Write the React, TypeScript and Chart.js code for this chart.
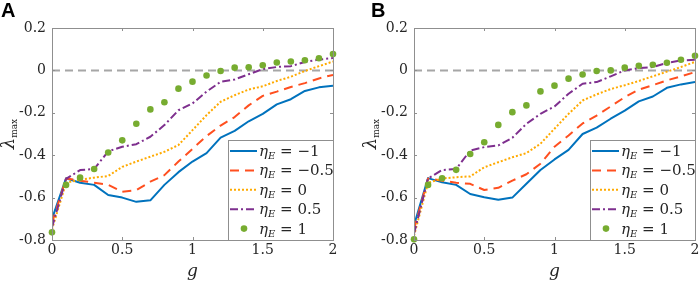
import React, { useEffect, useRef } from 'react';
import { Chart, registerables } from 'chart.js';
Chart.register(...registerables);

// ---------- data ----------
const G = [0, 0.1, 0.2, 0.3, 0.4, 0.5, 0.6, 0.7, 0.8, 0.9, 1.0, 1.1, 1.2, 1.3, 1.4, 1.5, 1.6, 1.7, 1.8, 1.9, 2.0];
const X_TICKS = [0, 0.5, 1, 1.5, 2];
const Y_TICKS = [-0.8, -0.6, -0.4, -0.2, 0, 0.2];
const LEGEND_VALUES = ['\u22121', '\u22120.5', '0', '0.5', '1'];

// Panel A
const A_ETA_M1 = [-0.70, -0.509, -0.53, -0.54, -0.588, -0.60, -0.62, -0.613, -0.54, -0.48, -0.43, -0.39, -0.317, -0.285, -0.24, -0.205, -0.16, -0.136, -0.097, -0.08, -0.072];
const A_ETA_M05 = [-0.72, -0.51, -0.52, -0.53, -0.54, -0.572, -0.565, -0.525, -0.494, -0.43, -0.37, -0.31, -0.26, -0.22, -0.165, -0.12, -0.1, -0.078, -0.06, -0.038, -0.021];
const A_ETA_0 = [-0.75, -0.53, -0.515, -0.506, -0.498, -0.455, -0.43, -0.407, -0.384, -0.352, -0.282, -0.211, -0.148, -0.117, -0.09, -0.075, -0.05, -0.03, -0.003, 0.02, 0.042];
const A_ETA_05 = [-0.74, -0.512, -0.47, -0.465, -0.382, -0.36, -0.348, -0.313, -0.258, -0.188, -0.156, -0.10, -0.054, -0.043, -0.018, 0.006, 0.016, 0.02, 0.04, 0.051, 0.058];
const A_ETA_1 = [-0.764, -0.54, -0.506, -0.465, -0.387, -0.33, -0.252, -0.184, -0.15, -0.086, -0.053, -0.024, -0.003, 0.013, 0.015, 0.024, 0.037, 0.042, 0.048, 0.057, 0.077];

// Panel B
const B_ETA_M1 = [-0.73, -0.508, -0.528, -0.54, -0.583, -0.598, -0.61, -0.60, -0.535, -0.47, -0.42, -0.375, -0.30, -0.27, -0.228, -0.19, -0.146, -0.123, -0.082, -0.066, -0.055];
const B_ETA_M05 = [-0.75, -0.51, -0.52, -0.53, -0.535, -0.564, -0.554, -0.52, -0.49, -0.44, -0.36, -0.307, -0.25, -0.213, -0.17, -0.126, -0.091, -0.07, -0.047, -0.028, -0.008];
const B_ETA_0 = [-0.78, -0.53, -0.51, -0.504, -0.50, -0.457, -0.433, -0.41, -0.39, -0.346, -0.275, -0.205, -0.142, -0.113, -0.088, -0.07, -0.05, -0.028, -0.006, 0.016, 0.04];
const B_ETA_05 = [-0.77, -0.51, -0.47, -0.465, -0.378, -0.362, -0.354, -0.318, -0.252, -0.205, -0.17, -0.11, -0.063, -0.055, -0.028, 0, 0.011, 0.016, 0.035, 0.047, 0.05];
const B_ETA_1 = [-0.797, -0.54, -0.509, -0.469, -0.394, -0.339, -0.257, -0.197, -0.165, -0.099, -0.072, -0.039, -0.019, -0.003, 0, 0.013, 0.022, 0.027, 0.036, 0.05, 0.069];

// ---------- styles ----------
const SERIF = '"DejaVu Serif", serif';
const AXIS_COLOR = '#8f8f8f';
const TEXT_COLOR = '#262626';
const STYLES = [
  { color: '#0072BD', dash: [] as number[], dots: false },
  { color: '#FF4F1F', dash: [9, 6], dots: false },
  { color: '#FFAA00', dash: [2, 2], dots: false },
  { color: '#7E2F8E', dash: [8, 3, 2, 3], dots: false },
  { color: '#77AC30', dash: [] as number[], dots: true },
];

const fmtY = (v: number) => {
  const r = Math.round(v * 10) / 10;
  return r === 0 ? '0' : r.toFixed(1);
};
const fmtX = (v: number) => String(Math.round(v * 10) / 10);

function drawEtaLabel(ctx: CanvasRenderingContext2D, x: number, y: number, val: string) {
  ctx.fillStyle = TEXT_COLOR;
  ctx.textBaseline = 'alphabetic';
  ctx.textAlign = 'left';
  ctx.font = `italic 15px ${SERIF}`;
  ctx.fillText('\u03B7', x, y);
  let w = ctx.measureText('\u03B7').width;
  ctx.font = `italic 10px ${SERIF}`;
  ctx.fillText('E', x + w, y + 3);
  w += ctx.measureText('E').width;
  ctx.font = `15px ${SERIF}`;
  ctx.fillText(' = ' + val, x + w, y);
}

type PanelProps = { letter: string; series: number[][]; left: number; letterX: number };

function Panel({ letter, series, left, letterX }: PanelProps) {
  const ref = useRef<HTMLCanvasElement>(null);
  useEffect(() => {
    const canvas = ref.current;
    if (!canvas) return;

    const decor = {
      id: 'decor',
      afterDatasetsDraw(chart: any) {
        const ctx: CanvasRenderingContext2D = chart.ctx;
        const ca = chart.chartArea;
        const xs = chart.scales.x;
        const ys = chart.scales.y;
        ctx.save();
        // box
        ctx.setLineDash([]);
        ctx.strokeStyle = AXIS_COLOR;
        ctx.lineWidth = 1;
        ctx.strokeRect(Math.round(ca.left) + 0.5, Math.round(ca.top) + 0.5, Math.round(ca.right - ca.left), Math.round(ca.bottom - ca.top));
        // inward ticks
        ctx.beginPath();
        X_TICKS.forEach((v) => {
          const px = Math.round(xs.getPixelForValue(v)) + 0.5;
          ctx.moveTo(px, ca.bottom); ctx.lineTo(px, ca.bottom - 3);
          ctx.moveTo(px, ca.top); ctx.lineTo(px, ca.top + 3);
        });
        Y_TICKS.forEach((v) => {
          const py = Math.round(ys.getPixelForValue(v)) + 0.5;
          ctx.moveTo(ca.left, py); ctx.lineTo(ca.left + 3, py);
          ctx.moveTo(ca.right, py); ctx.lineTo(ca.right - 3, py);
        });
        ctx.stroke();

        // legend
        const bw = 105, bh = 100;
        const bx = Math.round(ca.right) - bw;
        const by = Math.round(ca.bottom) - bh;
        ctx.fillStyle = '#ffffff';
        ctx.fillRect(bx, by, bw, bh);
        ctx.strokeStyle = AXIS_COLOR;
        ctx.strokeRect(bx + 0.5, by + 0.5, bw, bh);
        STYLES.forEach((s, i) => {
          const cy = by + 11 + i * 19.4;
          if (s.dots) {
            ctx.fillStyle = s.color;
            ctx.beginPath();
            ctx.arc(bx + 16, cy, 3.3, 0, Math.PI * 2);
            ctx.fill();
          } else {
            ctx.strokeStyle = s.color;
            ctx.lineWidth = 2;
            ctx.setLineDash(s.dash);
            ctx.beginPath();
            ctx.moveTo(bx + 2, cy);
            ctx.lineTo(bx + 29, cy);
            ctx.stroke();
            ctx.setLineDash([]);
          }
          drawEtaLabel(ctx, bx + 31, cy + 5, LEGEND_VALUES[i]);
        });

        // y title: lambda_max rotated
        ctx.save();
        const cyT = (ca.top + ca.bottom) / 2;
        ctx.translate(ca.left - 38, cyT);
        ctx.rotate(-Math.PI / 2);
        ctx.fillStyle = TEXT_COLOR;
        ctx.textBaseline = 'alphabetic';
        ctx.textAlign = 'left';
        ctx.font = `italic 18px ${SERIF}`;
        const wl = ctx.measureText('\u03BB').width;
        ctx.font = `9px ${SERIF}`;
        const wm = ctx.measureText('max').width;
        const start = -(wl + wm) / 2;
        ctx.font = `italic 18px ${SERIF}`;
        ctx.fillText('\u03BB', start, 0);
        ctx.font = `9px ${SERIF}`;
        ctx.fillText('max', start + wl, 3);
        ctx.restore();

        // x title
        ctx.fillStyle = TEXT_COLOR;
        ctx.font = `italic 17px ${SERIF}`;
        ctx.textAlign = 'center';
        ctx.textBaseline = 'alphabetic';
        ctx.fillText('g', (ca.left + ca.right) / 2, 276);

        // panel letter
        ctx.font = 'bold 20px "Liberation Sans", Arial, sans-serif';
        ctx.textAlign = 'left';
        ctx.fillStyle = '#000000';
        ctx.fillText(letter, letterX, 17);
        ctx.restore();
      },
    };

    const datasets: any[] = [
      {
        data: [{ x: 0, y: 0 }, { x: 2, y: 0 }],
        borderColor: '#a6a6a6',
        borderWidth: 2,
        borderDash: [8, 5],
        pointRadius: 0,
        order: 10,
      },
    ];
    series.forEach((vals, i) => {
      const s = STYLES[i];
      const pts = G.map((g, j) => ({ x: g, y: vals[j] }));
      if (s.dots) {
        datasets.push({
          data: pts,
          showLine: false,
          pointRadius: 3.3,
          pointBackgroundColor: s.color,
          pointBorderWidth: 0,
          borderColor: s.color,
          clip: false,
          order: 0,
        });
      } else {
        datasets.push({
          data: pts,
          borderColor: s.color,
          borderWidth: 2,
          borderDash: s.dash,
          borderJoinStyle: 'round',
          pointRadius: 0,
          tension: 0,
          order: 5 - i,
        });
      }
    });

    const chart = new Chart(canvas, {
      type: 'line',
      data: { datasets },
      options: {
        animation: false,
        responsive: false,
        devicePixelRatio: 1,
        layout: { padding: { left: 0, top: 28, right: 16, bottom: 0 } },
        plugins: { legend: { display: false }, tooltip: { enabled: false }, title: { display: false } },
        scales: {
          x: {
            type: 'linear',
            min: 0,
            max: 2,
            afterBuildTicks: (s: any) => { s.ticks = X_TICKS.map((v) => ({ value: v })); },
            afterFit: (s: any) => { s.height = 44; },
            ticks: {
              padding: 2,
              autoSkip: false,
              maxRotation: 0,
              color: TEXT_COLOR,
              font: { family: SERIF, size: 14 },
              callback: (v: any) => fmtX(Number(v)),
            },
            grid: { display: false, drawTicks: false },
            border: { display: false },
          },
          y: {
            type: 'linear',
            min: -0.8,
            max: 0.2,
            afterBuildTicks: (s: any) => { s.ticks = Y_TICKS.map((v) => ({ value: v })); },
            afterFit: (s: any) => { s.width = 52; },
            ticks: {
              padding: 6,
              autoSkip: false,
              color: TEXT_COLOR,
              font: { family: SERIF, size: 14 },
              callback: (v: any) => fmtY(Number(v)),
            },
            grid: { display: false, drawTicks: false },
            border: { display: false },
          },
        },
      } as any,
      plugins: [decor],
    });
    return () => chart.destroy();
  }, []);
  return (
    <canvas
      ref={ref}
      width={349}
      height={284}
      style={{ position: 'absolute', left, top: 0, width: 349, height: 284 }}
    />
  );
}

export default function App() {
  return (
    <div style={{ position: 'fixed', left: 0, top: 0, width: 699, height: 284, overflow: 'hidden', background: '#ffffff' }}>
      <Panel letter="A" series={[A_ETA_M1, A_ETA_M05, A_ETA_0, A_ETA_05, A_ETA_1]} left={0} letterX={1} />
      <Panel letter="B" series={[B_ETA_M1, B_ETA_M05, B_ETA_0, B_ETA_05, B_ETA_1]} left={362} letterX={9} />
    </div>
  );
}
